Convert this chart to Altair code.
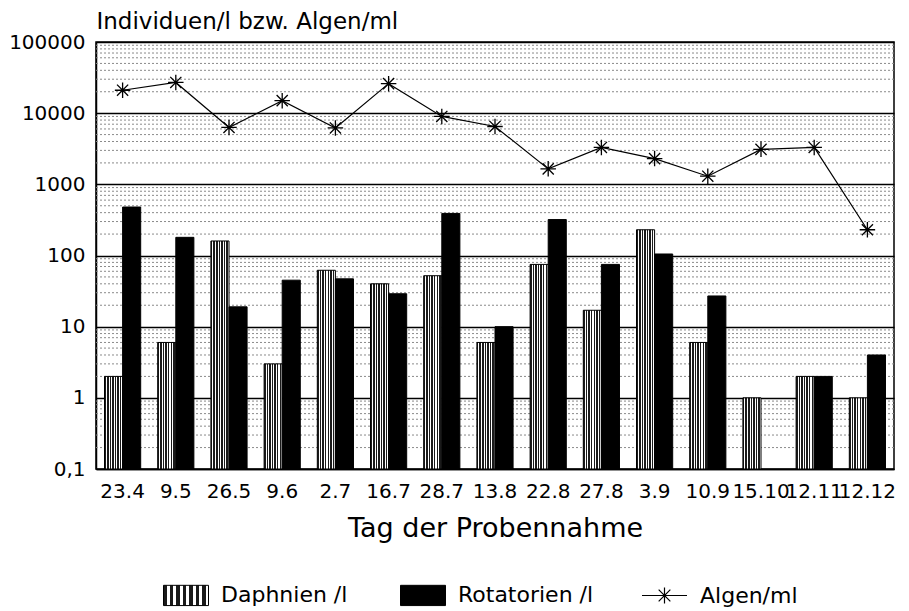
import altair as alt
import pandas as pd

dates = ["23.4", "9.5", "26.5", "9.6", "2.7", "16.7", "28.7", "13.8",
         "22.8", "27.8", "3.9", "10.9", "15.10", "12.11", "12.12"]
daphnien = [2, 6, 160, 3, 62, 40, 52, 6, 75, 17, 230, 6, 1, 2, 1]
rotatorien = [480, 180, 19, 45, 47, 29, 390, 10, 320, 75, 105, 27, None, 2, 4]
algen = [21000, 27000, 6300, 15000, 6200, 26000, 9000, 6500,
         1650, 3300, 2300, 1300, 3100, 3300, 230]
bar_series = ["Daphnien /l", "Rotatorien /l"]
line_series = ["Algen/ml"]
major_ticks = [0.1, 1, 10, 100, 1000, 10000, 100000]
minor_ticks = [m * d for d in [0.1, 1, 10, 100, 1000, 10000] for m in range(2, 10)]

FONT = "DejaVu Sans"

rows = []
for d, a, r in zip(dates, daphnien, rotatorien):
    if a is not None:
        rows.append({"date": d, "series": bar_series[0], "value": a})
    if r is not None:
        rows.append({"date": d, "series": bar_series[1], "value": r})
bars_df = pd.DataFrame(rows)
algen_df = pd.DataFrame({"date": dates, "series": line_series[0], "value": algen})
minor_df = pd.DataFrame({"value": minor_ticks})

# striped fill (hatch imitation) as a linear gradient
n = 7
stops = []
for i in range(n):
    a = i / n
    b = (i + 0.55) / n
    c = (i + 1) / n
    stops += [(a, "#1a1a1a"), (b, "#1a1a1a"), (b, "#ffffff"), (c, "#ffffff")]
grad_expr = ("{gradient: 'linear', x1: 0, y1: 0, x2: 1, y2: 0, stops: ["
             + ", ".join("{offset: %.4f, color: '%s'}" % (o, col) for o, col in stops)
             + "]}")

color_scale = alt.Scale(domain=bar_series, range=[{"expr": grad_expr}, "black"])

yscale = alt.Scale(type="log", domain=[0.1, 100000], nice=False)
yaxis = alt.Axis(
    values=major_ticks,
    labelExpr="datum.value < 1 ? '0,1' : format(datum.value, 'd')",
    title="Individuen/l bzw. Algen/ml",
    titleAngle=0, titleAlign="left", titleBaseline="alphabetic",
    titleX=0, titleY=-14, titleFontSize=23, titleFontWeight="normal",
    labelFontSize=20, labelPadding=11, ticks=False,
    grid=True, gridColor="black", gridWidth=1.3,
)
xscale = alt.Scale(paddingInner=0.32, paddingOuter=0.16)
xaxis = alt.Axis(
    title="Tag der Probennahme", labelAngle=0, labelFontSize=20,
    ticks=False, labelPadding=12, titleFontSize=27, titlePadding=14,
    titleFontWeight="normal", grid=False,
)

rect_path = "M-1,-0.45H1V0.45H-1Z"
algen_path = ("M-1,0H-0.32M0.32,0H1M0,-0.36V0.36M-0.34,0H0.34"
              "M-0.26,-0.26L0.26,0.26M-0.26,0.26L0.26,-0.26")
star_path = "M0,-1V1M-1,0H1M-0.72,-0.72L0.72,0.72M-0.72,0.72L0.72,-0.72"

bar_legend = alt.Legend(
    orient="none", legendX=67, legendY=530, direction="horizontal", title=None,
    symbolType=rect_path, symbolSize=2025, labelFontSize=22, labelFont=FONT,
    labelOffset=12, columnPadding=50, symbolStrokeColor="black",
    symbolStrokeWidth=1, labelColor="black", symbolOpacity=1,
)
line_legend = alt.Legend(
    orient="none", legendX=545, legendY=530, direction="horizontal", title=None,
    symbolSize=2025, labelFontSize=22, labelFont=FONT, labelOffset=12,
    symbolStrokeColor="black", symbolFillColor="transparent",
    symbolStrokeWidth=1.2, labelColor="black", symbolOpacity=1,
)

minor = alt.Chart(minor_df).mark_rule(
    color="#8a8a8a", strokeDash=[2, 2], strokeWidth=1
).encode(y=alt.Y("value:Q", scale=yscale, axis=yaxis))

bars = alt.Chart(bars_df).mark_bar(stroke="black", strokeWidth=1).encode(
    x=alt.X("date:N", sort=dates, scale=xscale, axis=xaxis),
    xOffset=alt.XOffset("series:N", sort=bar_series,
                        scale=alt.Scale(domain=bar_series, paddingInner=0, paddingOuter=0)),
    y=alt.Y("value:Q", scale=yscale, axis=yaxis),
    y2=alt.datum(0.1),
    color=alt.Color("series:N", scale=color_scale, legend=bar_legend),
)

line = alt.Chart(algen_df).mark_line(strokeWidth=1.2, color="black").encode(
    x=alt.X("date:N", sort=dates, scale=xscale, axis=xaxis),
    y=alt.Y("value:Q", scale=yscale, axis=yaxis),
)

points = alt.Chart(algen_df).mark_point(
    shape=star_path, size=240, filled=False, strokeWidth=1.3, opacity=1, color="black"
).encode(
    x=alt.X("date:N", sort=dates, scale=xscale, axis=xaxis),
    y=alt.Y("value:Q", scale=yscale, axis=yaxis),
)

# legend-only layer for the Algen entry (no marks drawn)
algen_key = alt.Chart(algen_df).transform_filter("false").mark_point(
    filled=False, color="black", strokeWidth=1.2, opacity=1
).encode(
    x=alt.X("date:N", sort=dates, scale=xscale, axis=xaxis),
    y=alt.Y("value:Q", scale=yscale, axis=yaxis),
    shape=alt.Shape("series:N", scale=alt.Scale(domain=line_series, range=[algen_path]),
                    legend=line_legend),
)

chart = alt.layer(minor, bars, line, points, algen_key).properties(
    width=798, height=427,
    padding={"left": 0, "top": 2, "right": 5, "bottom": 0},
).configure_view(
    stroke="black", strokeWidth=1.5
).configure_axis(
    labelFont=FONT, titleFont=FONT, labelColor="black", titleColor="black",
    domainColor="black", domainWidth=1.5,
).configure_legend(
    labelFont=FONT,
)

chart.save("out.html", embed_options={"renderer": "svg", "actions": False})
